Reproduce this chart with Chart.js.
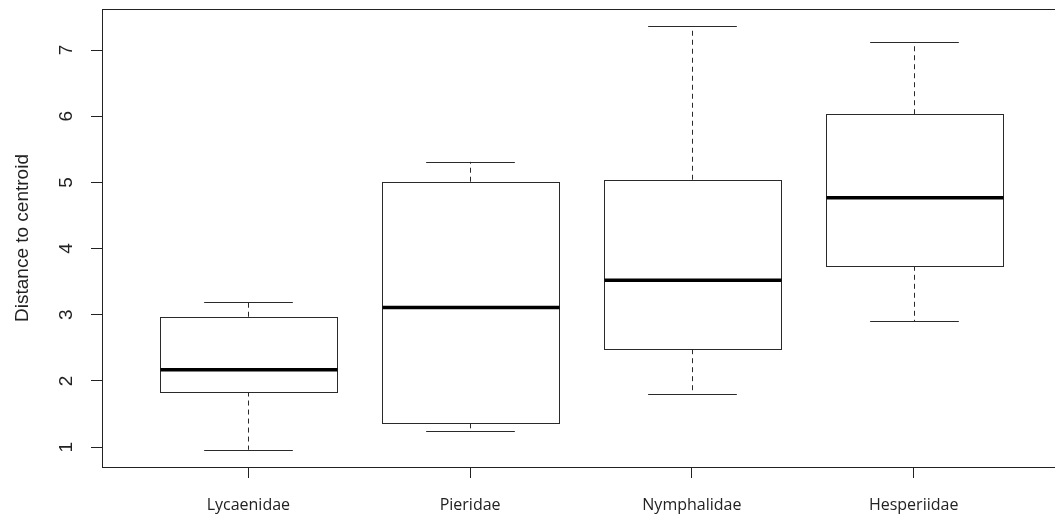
<!DOCTYPE html>
<html>
<head>
<meta charset="utf-8">
<script src="https://cdn.jsdelivr.net/npm/chart.js@4.4.1/dist/chart.umd.min.js"></script>
<style>
  html, body { margin: 0; padding: 0; background: #fff; overflow: hidden; }
  #wrap { width: 1065px; height: 516px; }
</style>
</head>
<body>
<div id="wrap"><canvas id="chart" width="1065" height="516"></canvas></div>
<script>
// box statistics
const families = ['Lycaenidae', 'Pieridae', 'Nymphalidae', 'Hesperiidae'];
const whiskerLow = [0.96, 1.24, 1.80, 2.90];
const lowerQuartile = [1.84, 1.36, 2.48, 3.74];
const medians = [2.17, 3.11, 3.52, 4.77];
const upperQuartile = [2.97, 5.01, 5.04, 6.03];
const whiskerHigh = [3.20, 5.31, 7.36, 7.12];
const yTicks = [1, 2, 3, 4, 5, 6, 7];

const BOX_WIDTH = 0.8;
const LINE = '#2a2a2a';

// draws the boxes, whiskers and frame with the chart's own scales
const boxplotPlugin = {
  id: 'boxplot',
  afterDatasetsDraw(chart) {
    const ctx = chart.ctx;
    const xs = chart.scales.x;
    const ys = chart.scales.y;
    const area = chart.chartArea;

    ctx.save();
    families.forEach((name, i) => {
      const cx = Math.round(xs.getPixelForValue(i + 1)) + 0.5;
      const half = xs.getPixelForValue(i + 1 + BOX_WIDTH / 2) - xs.getPixelForValue(i + 1);
      const capHalf = half / 2;
      const yLow = ys.getPixelForValue(whiskerLow[i]);
      const yQ1 = ys.getPixelForValue(lowerQuartile[i]);
      const yMed = ys.getPixelForValue(medians[i]);
      const yQ3 = ys.getPixelForValue(upperQuartile[i]);
      const yHigh = ys.getPixelForValue(whiskerHigh[i]);

      // dashed whiskers
      ctx.strokeStyle = LINE;
      ctx.lineWidth = 1;
      ctx.setLineDash([5, 4]);
      ctx.beginPath();
      ctx.moveTo(cx, yQ3); ctx.lineTo(cx, yHigh);
      ctx.moveTo(cx, yQ1); ctx.lineTo(cx, yLow);
      ctx.stroke();
      ctx.setLineDash([]);

      // caps
      ctx.beginPath();
      ctx.moveTo(cx - capHalf, Math.round(yHigh) + 0.5); ctx.lineTo(cx + capHalf, Math.round(yHigh) + 0.5);
      ctx.moveTo(cx - capHalf, Math.round(yLow) + 0.5); ctx.lineTo(cx + capHalf, Math.round(yLow) + 0.5);
      ctx.stroke();

      // box
      const left = Math.round(cx - half) + 0.5;
      const top = Math.round(yQ3) + 0.5;
      const w = Math.round(2 * half);
      const h = Math.round(yQ1) - Math.round(yQ3);
      ctx.fillStyle = '#fff';
      ctx.fillRect(left, top, w, h);
      ctx.strokeRect(left, top, w, h);

      // median
      ctx.strokeStyle = '#000';
      ctx.lineWidth = 3.5;
      ctx.beginPath();
      ctx.moveTo(left, yMed); ctx.lineTo(left + w, yMed);
      ctx.stroke();
    });

    // frame around the plot region
    ctx.strokeStyle = '#222';
    ctx.lineWidth = 1;
    ctx.strokeRect(Math.round(area.left) + 0.5, Math.round(area.top) + 0.5,
      Math.round(area.right - area.left), Math.round(area.bottom - area.top));

    // y tick labels, rotated like base R
    ctx.fillStyle = '#222';
    ctx.font = '19px "Liberation Sans", Arial, sans-serif';
    ctx.textAlign = 'center';
    ctx.textBaseline = 'middle';
    ys.ticks.forEach(t => {
      const y = ys.getPixelForValue(t.value);
      ctx.save();
      ctx.translate(67, y);
      ctx.rotate(-Math.PI / 2);
      ctx.fillText(String(t.value), 0, 0);
      ctx.restore();
    });
    ctx.restore();
  }
};

new Chart(document.getElementById('chart'), {
  type: 'scatter',
  data: { datasets: [] },
  options: {
    responsive: false,
    animation: false,
    devicePixelRatio: 1,
    layout: { padding: { left: 0, right: 5, top: 9, bottom: 0 } },
    plugins: { legend: { display: false }, tooltip: { enabled: false } },
    scales: {
      x: {
        type: 'linear',
        min: 0.34,
        max: 4.66,
        afterBuildTicks: s => { s.ticks = families.map((f, i) => ({ value: i + 1 })); },
        afterFit: s => { s.height = 49; },
        border: { display: false },
        grid: { drawOnChartArea: false, drawTicks: true, tickLength: 11, color: '#222' },
        ticks: {
          autoSkip: false,
          maxRotation: 0,
          padding: 18,
          color: '#222',
          font: { family: '"Open Sans", sans-serif', size: 16 },
          callback: (v, i) => families[i]
        }
      },
      y: {
        type: 'linear',
        min: 0.70,
        max: 7.62,
        afterBuildTicks: s => { s.ticks = yTicks.map(v => ({ value: v })); },
        afterFit: s => { s.width = 102; },
        border: { display: false },
        grid: { drawOnChartArea: false, drawTicks: true, tickLength: 11, color: '#222' },
        ticks: { display: false },
        title: {
          display: true,
          text: 'Distance to centroid',
          color: '#222',
          font: { family: '"Liberation Sans", Arial, sans-serif', size: 19 },
          padding: { top: 11, bottom: 0 }
        }
      }
    }
  },
  plugins: [boxplotPlugin]
});
</script>
</body>
</html>
